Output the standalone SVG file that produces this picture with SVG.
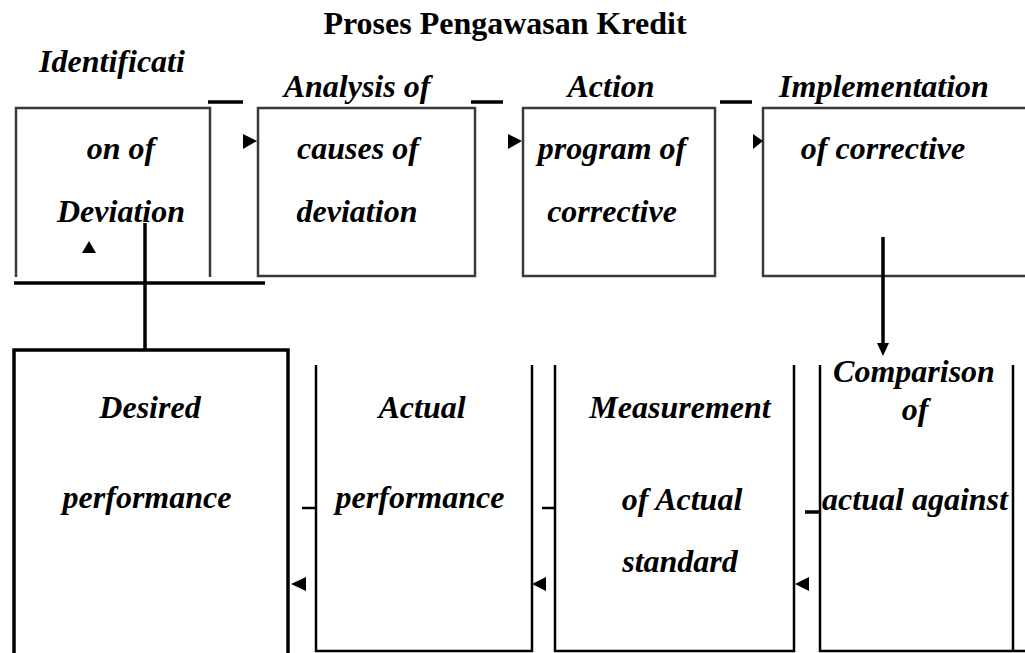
<svg xmlns="http://www.w3.org/2000/svg" width="1025" height="653" viewBox="0 0 1025 653">
<style>
.t{font-family:"Liberation Serif","DejaVu Serif",serif;font-weight:bold;font-style:italic;font-size:32px;text-anchor:middle;fill:#000}
.title{font-family:"Liberation Serif","Times New Roman",serif;font-weight:bold;font-size:32px;text-anchor:middle;fill:#000}
.bx{fill:none;stroke:#3a3a3a;stroke-width:2.5}
.bl{fill:none;stroke:#000;stroke-width:2.5}
.thick{fill:none;stroke:#000;stroke-width:3.5}
.dash{stroke:#000;stroke-width:3.5}
.sd{stroke:#000;stroke-width:2.5}
.ah{fill:#000}
</style>
<rect width="1025" height="653" fill="#fff"/>
<text class="title" x="505" y="34">Proses Pengawasan Kredit</text>

<g id="node-identification">
<path class="bx" d="M16,277 V108 H210 V277"/>
<text class="t" x="112" y="72">Identificati</text>
<text class="t" x="121" y="159">on of</text>
<text class="t" x="121" y="222">Deviation</text>
<polygon class="ah" points="82,253 96,253 89,241"/>
</g>

<g id="node-analysis">
<rect class="bx" x="258" y="108" width="217" height="168"/>
<text class="t" x="357" y="97">Analysis of</text>
<text class="t" x="358" y="159">causes of</text>
<text class="t" x="357" y="222">deviation</text>
</g>

<g id="node-action">
<rect class="bx" x="523" y="108" width="192" height="168"/>
<text class="t" x="611" y="97">Action</text>
<text class="t" x="612" y="159">program of</text>
<text class="t" x="612" y="222">corrective</text>
</g>

<g id="node-implementation">
<path class="bx" d="M1025,108 H763 V276 H1025"/>
<text class="t" x="884" y="97">Implementation</text>
<text class="t" x="883" y="159">of corrective</text>
</g>

<g id="node-desired">
<path class="thick" d="M14,653 V350 H288 V653"/>
<text class="t" x="150" y="418">Desired</text>
<text class="t" x="147" y="508">performance</text>
</g>

<g id="node-actual">
<path class="bl" d="M316,365 V651 H532 V365"/>
<text class="t" x="422" y="418">Actual</text>
<text class="t" x="420" y="508">performance</text>
</g>

<g id="node-measurement">
<path class="bl" d="M555,365 V651 H794 V365"/>
<text class="t" x="680" y="418">Measurement</text>
<text class="t" x="682" y="510">of Actual</text>
<text class="t" x="680" y="572">standard</text>
</g>

<g id="node-comparison">
<path class="bl" d="M820,365 V651 H1025 M1013,365 V651"/>
<text class="t" x="914" y="382">Comparison</text>
<text class="t" x="915" y="420">of</text>
<text class="t" x="915" y="510">actual against</text>
</g>

<g id="connectors">
<line class="dash" x1="208" y1="102" x2="243" y2="102"/>
<polygon class="ah" points="243,134 243,149 257,141"/>
<line class="dash" x1="471" y1="102" x2="503" y2="102"/>
<polygon class="ah" points="508,134 508,149 522,141"/>
<line class="dash" x1="720" y1="102" x2="752" y2="102"/>
<polygon class="ah" points="753,134 753,149 763,141"/>

<line class="thick" x1="14" y1="283" x2="265" y2="283"/>
<line class="dash" x1="145" y1="223" x2="145" y2="350"/>

<line class="dash" x1="883" y1="237" x2="883" y2="344"/>
<polygon class="ah" points="877,343 889,343 883,356"/>

<line class="sd" x1="302" y1="508" x2="316" y2="508"/>
<polygon class="ah" points="291,584 306,577 306,591"/>
<line class="sd" x1="542" y1="508" x2="555" y2="508"/>
<polygon class="ah" points="532,584 546,577 546,591"/>
<line class="dash" x1="805" y1="512" x2="820" y2="512"/>
<polygon class="ah" points="795,584 809,577 809,591"/>
</g>
</svg>
